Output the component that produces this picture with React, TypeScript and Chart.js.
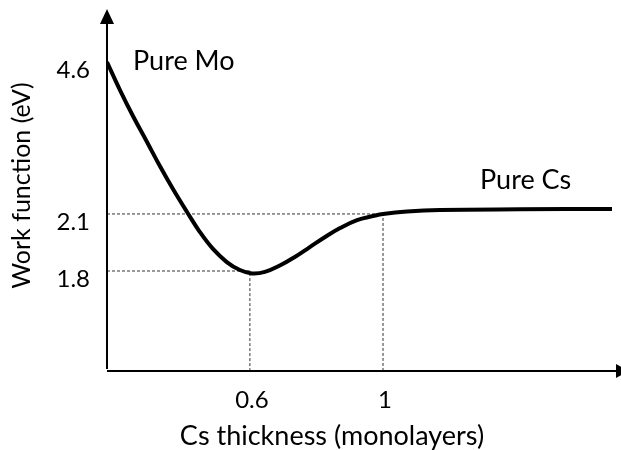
import React, { useEffect, useRef } from 'react';
import { Chart, registerables, LinearScale } from 'chart.js';

Chart.register(...registerables);

// ---------- data ----------
const THICKNESS = [0, 0.0545, 0.109, 0.168, 0.222, 0.277, 0.336, 0.39, 0.445, 0.503, 0.558, 0.606, 0.645, 0.69, 0.735, 0.78, 0.826, 0.871, 0.922, 0.97, 1.0, 1.072, 1.171, 1.412, 1.688];
const WORK_FUNCTION = [4.6, 4.139, 3.712, 3.284, 2.889, 2.511, 2.133, 2.005, 1.916, 1.847, 1.805, 1.787, 1.795, 1.829, 1.874, 1.926, 1.979, 2.026, 2.068, 2.089, 2.1, 2.141, 2.166, 2.177, 2.182];
const Y_TICKS = [1.8, 2.1, 4.6];
const Y_TICK_LABELS = ['1.8', '2.1', '4.6'];
const X_TICKS = [0.6, 1];
const X_TICK_LABELS = ['0.6', '1'];
const GUIDE_X = [0.6, 1];
const GUIDE_Y = [1.8, 2.1];
const X_TITLE = 'Cs thickness (monolayers)';
const Y_TITLE = 'Work function (eV)';
const LABEL_START = 'Pure Mo';
const LABEL_END = 'Pure Cs';

// schematic (non-linear) axes: value -> fraction of axis length
const KNOTS: Record<string, [number, number][]> = {
  x: [[0, 0], [0.6, 0.278], [1, 0.537], [1.715, 1]],
  y: [[1.27, 0], [1.8, 0.277], [2.1, 0.435], [4.6, 0.856], [5.46, 1]],
};

function warp(knots: [number, number][], v: number) {
  for (let i = 0; i < knots.length - 1; i++) {
    const [v0, f0] = knots[i];
    const [v1, f1] = knots[i + 1];
    if (v <= v1 || i === knots.length - 2) return f0 + ((v - v0) * (f1 - f0)) / (v1 - v0);
  }
  return 0;
}
function unwarp(knots: [number, number][], f: number) {
  for (let i = 0; i < knots.length - 1; i++) {
    const [v0, f0] = knots[i];
    const [v1, f1] = knots[i + 1];
    if (f <= f1 || i === knots.length - 2) return v0 + ((f - f0) * (v1 - v0)) / (f1 - f0);
  }
  return 0;
}
const lo = (k: [number, number][]) => k[0][0];
const hi = (k: [number, number][]) => k[k.length - 1][0];

class PiecewiseScale extends LinearScale {
  static id = 'piecewise';
  static defaults = LinearScale.defaults;
  getPixelForValue(value: number) {
    const k = KNOTS[(this as any).axis];
    return super.getPixelForValue(lo(k) + warp(k, value) * (hi(k) - lo(k)));
  }
  getValueForPixel(pixel: number) {
    const k = KNOTS[(this as any).axis];
    const raw = super.getValueForPixel(pixel);
    return unwarp(k, (raw - lo(k)) / (hi(k) - lo(k)));
  }
}
Chart.register(PiecewiseScale as any);

const FONT = 'Lato, "Open Sans", sans-serif';

const decorPlugin = {
  id: 'decor',
  afterDatasetsDraw(chart: any) {
    const { ctx, chartArea } = chart;
    const { left, right, top, bottom } = chartArea;
    ctx.save();
    ctx.strokeStyle = '#000';
    ctx.fillStyle = '#000';
    ctx.lineWidth = 2;
    // y axis
    ctx.beginPath();
    ctx.moveTo(left, bottom - 2);
    ctx.lineTo(left, top + 12);
    ctx.stroke();
    ctx.beginPath();
    ctx.moveTo(left, top - 1);
    ctx.lineTo(left - 7, top + 14);
    ctx.lineTo(left + 7, top + 14);
    ctx.closePath();
    ctx.fill();
    // x axis
    ctx.beginPath();
    ctx.moveTo(left, bottom);
    ctx.lineTo(right - 4, bottom);
    ctx.stroke();
    ctx.beginPath();
    ctx.moveTo(right + 8, bottom);
    ctx.lineTo(right - 5, bottom - 7);
    ctx.lineTo(right - 5, bottom + 7);
    ctx.closePath();
    ctx.fill();
    ctx.restore();
  },
  afterDraw(chart: any) {
    const { ctx, chartArea } = chart;
    const { left, top, bottom } = chartArea;
    ctx.save();
    ctx.fillStyle = '#000';
    ctx.textBaseline = 'alphabetic';
    ctx.font = `27px ${FONT}`;
    ctx.textAlign = 'left';
    ctx.fillText(LABEL_START, left + 26, top + 60);
    ctx.fillText(LABEL_END, left + 373, top + 179);
    ctx.textAlign = 'center';
    ctx.fillText(X_TITLE, left + 225, bottom + 74);
    ctx.translate(22, (top + bottom) / 2 - 5);
    ctx.rotate(-Math.PI / 2);
    ctx.font = `25px ${FONT}`;
    ctx.textBaseline = 'middle';
    ctx.fillText(Y_TITLE, 0, 0);
    ctx.restore();
  },
};

export default function App() {
  const ref = useRef<HTMLCanvasElement>(null);
  useEffect(() => {
    if (!ref.current) return;
    const yMin = lo(KNOTS.y);
    const guides = GUIDE_X.map((gx, i) => ({
      data: [
        { x: 0, y: GUIDE_Y[i] },
        { x: gx, y: GUIDE_Y[i] },
        { x: gx, y: yMin },
      ],
      borderColor: '#333',
      borderWidth: 1,
      borderDash: [3, 2],
      pointRadius: 0,
      tension: 0,
      order: 2,
    }));
    const chart = new Chart(ref.current, {
      type: 'line',
      data: {
        datasets: [
          {
            data: THICKNESS.map((x, i) => ({ x, y: WORK_FUNCTION[i] })),
            borderColor: '#000',
            borderWidth: 4,
            pointRadius: 0,
            tension: 0.4,
            order: 1,
          } as any,
          ...guides,
        ],
      },
      options: {
        animation: false,
        responsive: false,
        events: [],
        layout: { padding: { left: 0, top: 10, right: 0, bottom: 0 } },
        plugins: { legend: { display: false }, tooltip: { enabled: false } },
        scales: {
          x: {
            type: 'piecewise' as any,
            min: lo(KNOTS.x),
            max: hi(KNOTS.x),
            bounds: 'data',
            grid: { display: false, drawTicks: false },
            border: { display: false },
            afterBuildTicks: (s: any) => {
              s.ticks = X_TICKS.map((v) => ({ value: v }));
            },
            afterFit: (s: any) => {
              s.height = 79;
              s.paddingLeft = 0;
              s.paddingRight = 0;
            },
            ticks: {
              autoSkip: false,
              maxRotation: 0,
              padding: 15,
              labelOffset: 2,
              color: '#000',
              font: { family: FONT, size: 24 },
              callback: (_v: any, i: number) => X_TICK_LABELS[i],
            },
          },
          y: {
            type: 'piecewise' as any,
            min: lo(KNOTS.y),
            max: hi(KNOTS.y),
            bounds: 'data',
            grid: { display: false, drawTicks: false },
            border: { display: false },
            afterBuildTicks: (s: any) => {
              s.ticks = Y_TICKS.map((v) => ({ value: v }));
            },
            afterFit: (s: any) => {
              s.width = 107;
              s.paddingTop = 0;
              s.paddingBottom = 0;
            },
            ticks: {
              autoSkip: false,
              padding: 17,
              labelOffset: 8,
              color: '#000',
              font: { family: FONT, size: 24 },
              callback: (_v: any, i: number) => Y_TICK_LABELS[i],
            },
          },
        },
      } as any,
      plugins: [decorPlugin],
    });
    return () => chart.destroy();
  }, []);
  return (
    <div style={{ position: 'absolute', left: 0, top: 0, width: 621, height: 450 }}>
      <canvas ref={ref} width={621} height={450} style={{ display: 'block' }} />
    </div>
  );
}
